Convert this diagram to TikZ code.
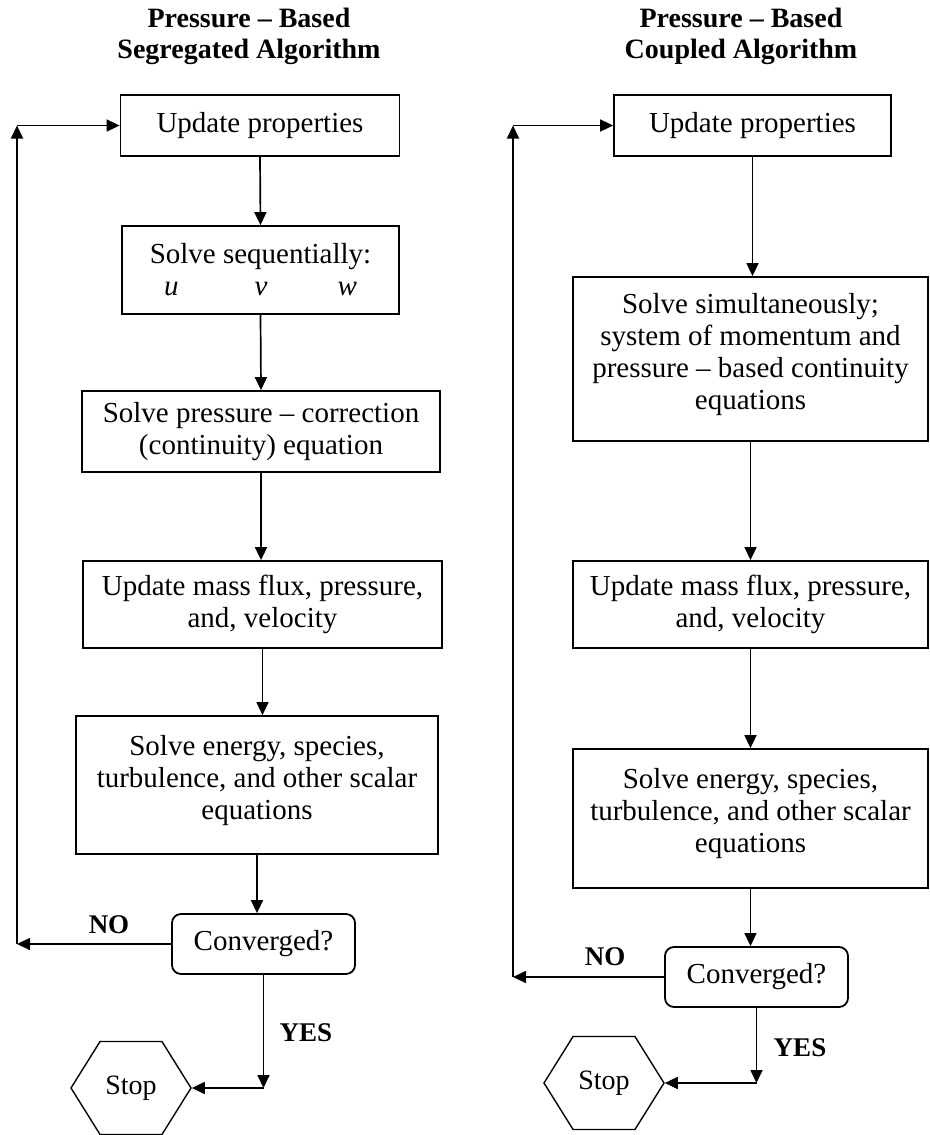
\documentclass[tikz,border=0pt]{standalone}
\usepackage{fontspec}
\setmainfont{Liberation Serif}
\usetikzlibrary{arrows.meta,shapes.symbols}
\tikzset{
  block/.style={draw, line width=1.8pt, inner sep=0pt, align=center, font=\fontsize{29}{32}\selectfont},
  decision/.style={block, rounded corners=9pt, minimum width=183pt, minimum height=60pt},
  stopper/.style={draw, line width=1.4pt, signal, signal to=west and east, signal pointer angle=116, minimum width=120pt, minimum height=93pt, inner sep=0pt, font=\fontsize{28}{32}\selectfont},
  flow/.style={-{Triangle[length=13pt,width=12pt]}, line width=1.7pt},
  title/.style={font=\fontsize{28}{31}\selectfont\bfseries, align=center, inner sep=0pt, anchor=north},
  answer/.style={font=\fontsize{27}{30}\selectfont\bfseries, inner sep=0pt}
}
\begin{document}
\begin{tikzpicture}[x=1pt,y=-1pt]
        \useasboundingbox (0,0) rectangle (929,1135);
        \node[title] (ltitle) at (249,8) {Pressure -- Based\\Segregated Algorithm};
        \node[title] (rtitle) at (741,8) {Pressure -- Based\\Coupled Algorithm};

        \node[block, minimum width=279pt, minimum height=61pt] (lup) at (260,125.5) {Update properties};
        \node[block, minimum width=277pt, minimum height=88pt] (lseq) at (260.5,270) {Solve sequentially:\\\textit{u}\hspace{76pt}\textit{v}\hspace{70pt}\textit{w}};
        \node[block, minimum width=358pt, minimum height=81pt] (lpc) at (261,431.5) {Solve pressure -- correction\\(continuity) equation};
        \node[block, minimum width=359pt, minimum height=87pt] (lmf) at (262.5,604.5) {Update mass flux, pressure,\\and, velocity};
        \node[block, minimum width=362pt, minimum height=138pt] (len) at (257,785) {Solve energy, species,\\turbulence, and other scalar\\equations\\[-16pt]};
        \node[decision] (lconv) at (263.5,944) {Converged?};
        \node[stopper] (lstop) at (131,1088) {Stop};

        \node[block, minimum width=277pt, minimum height=61pt] (rup) at (752.5,125.5) {Update properties};
        \node[block, minimum width=355pt, minimum height=164pt] (rsim) at (750.5,359) {Solve simultaneously;\\system of momentum and\\pressure -- based continuity\\equations\\[-16pt]};
        \node[block, minimum width=355pt, minimum height=87pt] (rmf) at (750.5,604.5) {Update mass flux, pressure,\\and, velocity};
        \node[block, minimum width=355pt, minimum height=139pt] (ren) at (750.5,818.5) {Solve energy, species,\\turbulence, and other scalar\\equations\\[-16pt]};
        \node[decision] (rconv) at (756.5,977) {Converged?};
        \node[stopper] (rstop) at (604,1083) {Stop};

        \draw[flow] (lup.south) -- (lseq.north);
        \draw[flow] (lseq.south) -- (lpc.north);
        \draw[flow] (lpc.south) -- (lpc.south |- lmf.north);
        \draw[flow] (lmf.south) -- (lmf.south |- len.north);
        \draw[flow] (len.south) -- (len.south |- lconv.north);
        \coordinate (lno) at (17,944);
        \coordinate (ltop) at (lno |- lup.west);
        \coordinate (lyes) at (lconv.south |- lstop.east);
        \draw[flow] (lconv.west) -- (lno);
        \draw[flow] (lno) -- (ltop);
        \draw[flow] (ltop) -- (lup.west);
        \draw[flow] (lconv.south) -- (lyes);
        \draw[flow] (lyes) -- (lstop.east);
        \node[answer] (lnotxt) at (109,925) {NO};
        \node[answer] (lyestxt) at (306,1033) {YES};

        \draw[flow] (rup.south) -- (rup.south |- rsim.north);
        \draw[flow] (rsim.south) -- (rsim.south |- rmf.north);
        \draw[flow] (rmf.south) -- (rmf.south |- ren.north);
        \draw[flow] (ren.south) -- (ren.south |- rconv.north);
        \coordinate (rno) at (513,977);
        \coordinate (rtop) at (rno |- rup.west);
        \coordinate (ryes) at (rconv.south |- rstop.east);
        \draw[flow] (rconv.west) -- (rno);
        \draw[flow] (rno) -- (rtop);
        \draw[flow] (rtop) -- (rup.west);
        \draw[flow] (rconv.south) -- (ryes);
        \draw[flow] (ryes) -- (rstop.east);
        \node[answer] (rnotxt) at (605,957) {NO};
        \node[answer] (ryestxt) at (800,1048) {YES};
\end{tikzpicture}
\end{document}
